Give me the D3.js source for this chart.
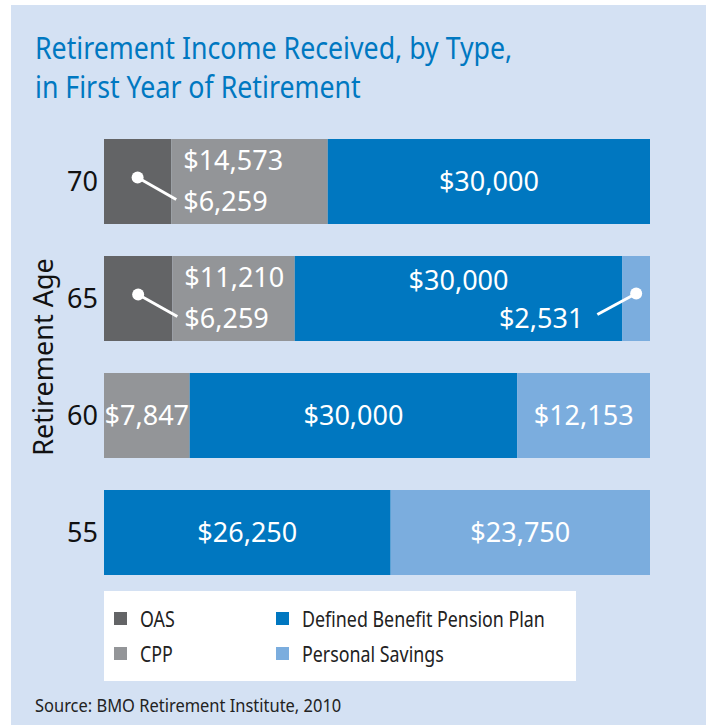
<!DOCTYPE html>
<html lang="en">
<head>
    <meta charset="UTF-8">
    <title>Retirement Income Received</title>
    <script src="https://cdn.jsdelivr.net/npm/d3@7"></script>
    <style>
        body { margin: 0; background: #fff; }
        svg text { font-family: "Noto Sans", "Open Sans", sans-serif; }
    </style>
</head>
<body>
<script>
    // data
    const ages = ['70', '65', '60', '55']
    const seriesNames = ['OAS', 'CPP', 'Defined Benefit Pension Plan', 'Personal Savings']
    const oas = [6259, 6259, 0, 0]
    const cpp = [14573, 11210, 7847, 0]
    const pension = [30000, 30000, 30000, 26250]
    const savings = [0, 2531, 12153, 23750]
    const colors = ['#636466', '#939598', '#0077c0', '#7badde']

    const [width, height] = [706, 725]
    const rows = ages.map((a, i) => ({
        age: a,
        'OAS': oas[i], 'CPP': cpp[i],
        'Defined Benefit Pension Plan': pension[i], 'Personal Savings': savings[i]
    }))

    const svg = d3.select('body').append('svg')
        .attr('width', width).attr('height', height)

    svg.append('rect').attr('x', 11).attr('y', 5)
        .attr('width', width - 11).attr('height', height - 5)
        .attr('fill', '#d4e1f3')

    // title (condensed look: squeeze horizontally)
    const title = svg.append('g').attr('transform', 'translate(35,0) scale(0.862,1)')
        .append('text').attr('fill', '#0078c1').attr('font-size', 31)
    title.append('tspan').attr('x', 0).attr('y', 59).text('Retirement Income Received, by Type,')
    title.append('tspan').attr('x', 0).attr('y', 98).text('in First Year of Retirement')

    const x = d3.scaleLinear().domain([0, 1]).range([104, 650])
    const y = d3.scaleBand().domain(ages).range([139, 575]).paddingInner(32 / 117)
    const color = d3.scaleOrdinal().domain(seriesNames).range(colors)

    // each bar spans the full width: shares of the row total
    const stack = d3.stack().keys(seriesNames).offset(d3.stackOffsetExpand)
    const layers = stack(rows)

    svg.append('g').selectAll('g').data(layers).enter().append('g')
        .attr('fill', d => color(d.key))
        .selectAll('rect').data(d => d).enter().append('rect')
        .attr('x', d => x(d[0]))
        .attr('y', d => y(d.data.age))
        .attr('width', d => x(d[1]) - x(d[0]))
        .attr('height', y.bandwidth())

    // age labels
    svg.append('g').selectAll('text').data(ages).enter().append('text')
        .attr('x', 98).attr('y', d => y(d) + y.bandwidth() / 2)
        .attr('dy', '0.36em').attr('text-anchor', 'end')
        .attr('font-size', 27).attr('fill', '#111')
        .text(d => d)

    svg.append('text')
        .attr('transform', `translate(53,${(y.range()[0] + y.range()[1]) / 2}) rotate(-90)`)
        .attr('text-anchor', 'middle').attr('font-size', 27).attr('fill', '#111')
        .text('Retirement Age')

    // value labels, small segments get a callout into the neighbour
    const fmt = v => '$' + d3.format(',')(v)
    const labels = svg.append('g').attr('fill', '#fff').attr('font-size', 27)
    const small = 75
    rows.forEach(r => {
        const cy = y(r.age) + y.bandwidth() / 2
        const segs = layers.map(l => {
            const d = l.find(e => e.data.age === r.age)
            return {key: l.key, v: r[l.key], x0: x(d[0]), x1: x(d[1])}
        }).filter(s => s.v > 0)
        segs.forEach((s, i) => {
            const w = s.x1 - s.x0
            if (w < small) return
            const prev = segs[i - 1], next = segs[i + 1]
            const fromLeft = prev && prev.x1 - prev.x0 < small
            const fromRight = next && next.x1 - next.x0 < small
            if (fromLeft) {
                labels.append('text').attr('x', s.x0 + 12).attr('y', cy - 12).text(fmt(s.v))
                labels.append('text').attr('x', s.x0 + 12).attr('y', cy + 29).text(fmt(prev.v))
                const dx = (prev.x0 + prev.x1) / 2
                labels.append('line').attr('x1', dx).attr('y1', cy - 4)
                    .attr('x2', s.x0 + 5).attr('y2', cy + 18)
                    .attr('stroke', '#fff').attr('stroke-width', 3)
                labels.append('circle').attr('cx', dx).attr('cy', cy - 4).attr('r', 6)
            } else if (fromRight) {
                labels.append('text').attr('x', (s.x0 + s.x1) / 2).attr('y', cy - 9)
                    .attr('text-anchor', 'middle').text(fmt(s.v))
                labels.append('text').attr('x', s.x1 - 39).attr('y', cy + 29)
                    .attr('text-anchor', 'end').text(fmt(next.v))
                const dx = (next.x0 + next.x1) / 2
                labels.append('line').attr('x1', dx).attr('y1', cy - 5)
                    .attr('x2', s.x1 - 25).attr('y2', cy + 16)
                    .attr('stroke', '#fff').attr('stroke-width', 3)
                labels.append('circle').attr('cx', dx).attr('cy', cy - 5).attr('r', 6)
            } else {
                labels.append('text').attr('x', (s.x0 + s.x1) / 2).attr('y', cy)
                    .attr('dy', '0.36em').attr('text-anchor', 'middle').text(fmt(s.v))
            }
        })
    })

    // legend
    const legend = svg.append('g')
    legend.append('rect').attr('x', 104).attr('y', 591).attr('width', 472).attr('height', 90).attr('fill', '#fff')
    const item = legend.selectAll('g.item').data(seriesNames).enter().append('g').attr('class', 'item')
        .attr('transform', (d, i) => `translate(${i < 2 ? 114 : 276},${i % 2 ? 647 : 612})`)
    item.append('rect').attr('width', 13).attr('height', 13).attr('fill', d => color(d))
    item.append('g').attr('transform', 'translate(26,0) scale(0.85,1)')
        .append('text').attr('y', 15)
        .attr('font-size', 21).attr('fill', '#222').text(d => d)

    svg.append('g').attr('transform', 'translate(35,0) scale(0.89,1)')
        .append('text').attr('y', 712)
        .attr('font-size', 18.5).attr('fill', '#222')
        .text('Source: BMO Retirement Institute, 2010')
</script>
</body>
</html>
